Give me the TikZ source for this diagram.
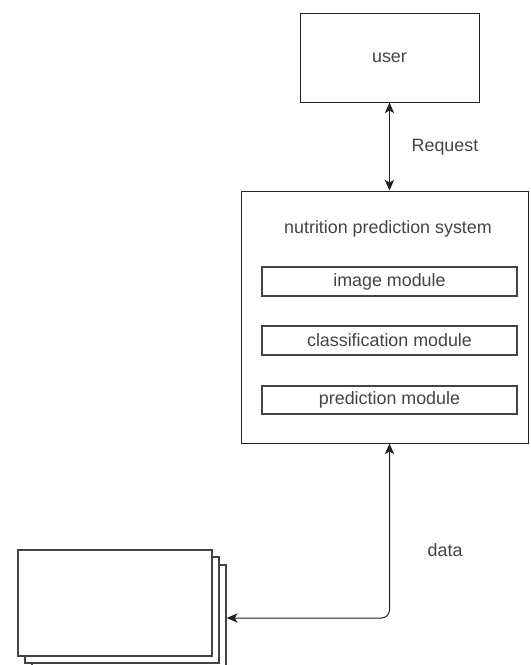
\documentclass[tikz,border=0pt]{standalone}
\usepackage{fontspec}
\setmainfont{Liberation Sans}
\usetikzlibrary{fit,arrows.meta}
\definecolor{txt}{HTML}{444444}
\definecolor{edge}{HTML}{222222}
\tikzset{
  box/.style={draw=edge, line width=0.75pt, fill=white, inner sep=0pt},
  modbox/.style={draw=edge!85, line width=1.3pt, fill=white, inner sep=0pt},
  sheet/.style={draw=edge!85, line width=1.2pt, fill=white, inner sep=0pt},
  lbl/.style={text=txt, font=\fontsize{13.4}{15}\selectfont},
  tip/.tip={Stealth[length=8pt,width=7pt,inset=2pt]},
  link/.style={draw=edge, line width=0.75pt, tip-tip},
}
\begin{document}
\begin{tikzpicture}[x=0.75pt, y=-0.75pt]
\useasboundingbox (0,0) rectangle (531,665);

% client
\node[box, fit={(300,13) (479,102)}, label={[lbl]center:user}] (user) {};

% system with its three modules
\node[box, fit={(241,191) (528,443)}] (sys) {};
\node[lbl] (title) at (388,229) {nutrition prediction system};
\node[modbox, fit={(262,267) (517,296)}, label={[lbl]center:image module}] (mod1) {};
\node[modbox, fit={(262,326) (517,355)}, label={[lbl]center:classification module}] (mod2) {};
\node[modbox, fit={(262,386) (517,414)}, label={[lbl]center:prediction module}] (mod3) {};

% stacked data sheets
\node[sheet, fit={(32,565) (226,671)}] (doc3) {};
\node[sheet, fit={(25,557) (219,663)}] (doc2) {};
\node[sheet, fit={(18,550) (212,656)}] (doc1) {};

% port on the lower edge of the system box
\coordinate (sysport) at (user.south |- sys.south);

% connectors
\draw[link] (user.south) -- (user.south |- sys.north);
\node[lbl, anchor=west] (req) at (407,147) {Request};

\draw[link, rounded corners=6pt] (sysport) |- (doc3.east);
\node[lbl, anchor=west] (data) at (423,550) {data};
\end{tikzpicture}
\end{document}
